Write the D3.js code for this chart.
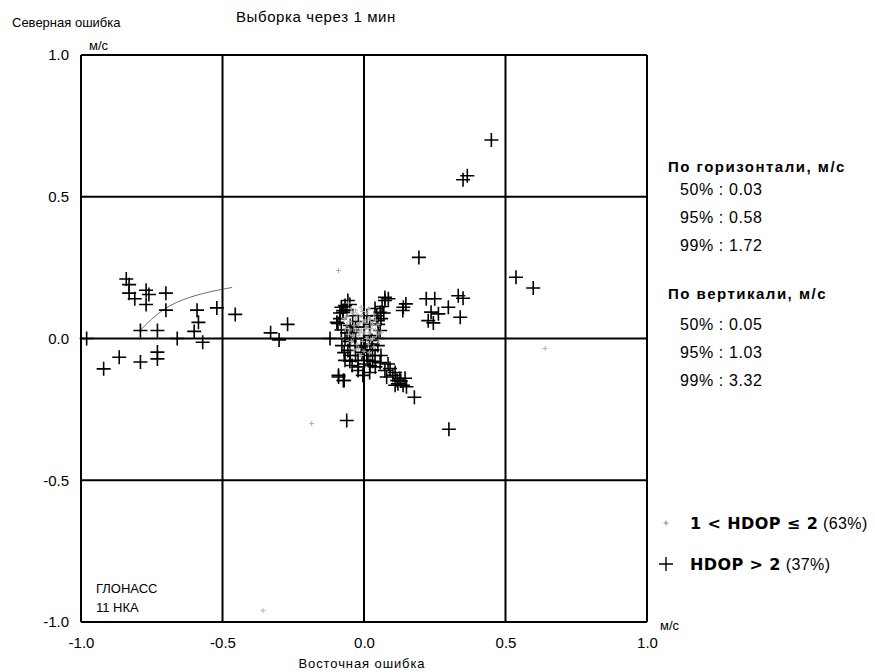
<!DOCTYPE html>
<html>
<head>
<meta charset="utf-8">
<script src="https://cdn.jsdelivr.net/npm/d3@7"></script>
<style>
  body { margin: 0; background: #fff; }
  text { font-family: "Liberation Sans", Arial, sans-serif; fill: #000; }
</style>
</head>
<body>
<div id="container"></div>
<script>
/* CONSTANTS AND GLOBALS */
const width = 875, height = 672;
const margin = { top: 55, right: 228, bottom: 50, left: 81 };

const ticks = [-1.0, -0.5, 0.0, 0.5, 1.0];
const tickLabels = ["-1.0", "-0.5", "0.0", "0.5", "1.0"];

// HDOP > 2 : big crosses [east, north] m/s
const hdopHigh = [
  [-0.84, 0.21], [-0.83, 0.19], [-0.83, 0.16], [-0.81, 0.14], [-0.77, 0.17],
  [-0.76, 0.155], [-0.70, 0.16], [-0.77, 0.12], [-0.70, 0.10], [-0.59, 0.10],
  [-0.585, 0.057], [-0.52, 0.108], [-0.455, 0.085], [-0.79, 0.028], [-0.73, 0.028],
  [-0.60, 0.025], [-0.98, 0.0], [-0.66, 0.0], [-0.57, -0.013], [-0.33, 0.02],
  [-0.27, 0.05], [-0.30, -0.005], [-0.12, 0.0], [-0.865, -0.066], [-0.92, -0.107],
  [-0.79, -0.083], [-0.73, -0.048], [-0.73, -0.072], [-0.09, -0.13], [-0.07, -0.148],
  [0.45, 0.70], [0.35, 0.56], [0.365, 0.574], [0.194, 0.286], [0.537, 0.216],
  [0.598, 0.178], [0.086, 0.14], [0.148, 0.122], [0.137, 0.099], [0.22, 0.14],
  [0.25, 0.14], [0.237, 0.093], [0.263, 0.087], [0.298, 0.11], [0.333, 0.151],
  [0.35, 0.142], [0.34, 0.075], [0.227, 0.063], [0.245, 0.055],
  [-0.061, -0.289], [0.30, -0.32], [0.178, -0.207], [0.139, 0.11], [0.074, 0.145],
  [-0.09, -0.136], [-0.073, -0.148], [0.08, -0.136], [-0.074, 0.099], [-0.096, 0.057],
  [-0.067, 0.116], [-0.074, 0.092], [-0.085, 0.070], [-0.092, 0.053], [-0.057, 0.134],
  [-0.049, 0.046], [-0.042, 0.021], [-0.067, 0.0], [-0.078, -0.025], [-0.057, -0.042],
  [-0.032, -0.025], [-0.049, -0.060], [-0.067, -0.077], [-0.042, -0.095], [-0.021, -0.077],
  [-0.007, -0.049], [0.004, -0.025], [0.021, -0.042], [0.039, -0.060], [0.049, -0.025],
  [0.028, -0.007], [0.014, -0.077], [-0.021, -0.113], [-0.004, -0.130], [0.021, -0.095],
  [0.057, -0.085], [0.074, -0.113], [0.092, -0.106], [0.102, -0.130], [0.117, -0.148],
  [0.127, -0.141], [0.110, -0.165], [0.138, -0.165], [0.049, 0.063], [0.057, 0.092],
  [0.064, 0.113], [0.039, 0.106], [0.074, 0.134], [0.057, 0.028], [0.049, 0.0],
  [-0.08, 0.03], [-0.06, 0.02], [-0.05, -0.01], [-0.03, 0.0], [-0.01, -0.03],
  [0.01, -0.06], [0.03, -0.08], [-0.03, -0.06], [-0.05, -0.08], [-0.07, -0.05],
  [0.0, -0.09], [0.04, -0.10], [0.06, -0.06], [0.03, -0.04], [-0.02, -0.10],
  [0.02, -0.12], [0.05, 0.05], [0.06, 0.07], [0.07, 0.09], [0.045, 0.08],
  [-0.06, 0.10], [-0.08, 0.11], [-0.05, 0.12], [-0.04, 0.08], [-0.03, 0.04],
  [0.0, 0.0], [0.02, 0.01], [-0.085, 0.09], [0.03, -0.02], [0.085, -0.09],
  [0.11, -0.12], [0.13, -0.15], [0.145, -0.14], [0.12, -0.16], [0.15, -0.17],
  [-0.02, 0.06], [0.0, 0.04], [0.02, 0.05], [-0.04, 0.03], [0.01, 0.08]
];

// 1 < HDOP <= 2 : small crosses
const hdopLow = [
  [-0.06, 0.08], [-0.05, 0.06], [-0.04, 0.09], [-0.03, 0.07], [-0.02, 0.05],
  [-0.01, 0.08], [0.00, 0.06], [0.01, 0.04], [0.02, 0.07], [0.03, 0.05],
  [0.04, 0.03], [-0.05, 0.03], [-0.04, 0.01], [-0.03, 0.03], [-0.02, 0.01],
  [-0.01, 0.03], [0.00, 0.02], [0.01, 0.00], [0.02, 0.02], [0.03, 0.00],
  [-0.06, 0.05], [-0.035, 0.045], [-0.015, 0.055], [0.005, 0.035], [0.025, 0.035],
  [-0.045, -0.01], [-0.025, -0.02], [-0.005, -0.01], [0.015, -0.02], [0.035, -0.03],
  [-0.03, 0.10], [-0.01, 0.11], [0.01, 0.09], [0.05, 0.05], [0.045, 0.015],
  [-0.055, 0.015], [-0.02, -0.035], [0.00, -0.045], [0.02, -0.05], [0.06, 0.02],
  [-0.07, 0.07], [-0.045, 0.105], [-0.025, 0.085], [-0.005, 0.095], [0.015, 0.105],
  [0.035, 0.085], [-0.065, 0.035], [-0.015, 0.02], [0.005, 0.065], [0.025, -0.005],
  [-0.035, -0.04], [-0.01, -0.06], [0.05, -0.01], [0.04, 0.065], [-0.055, 0.125],
  [-0.09, 0.24], [-0.185, -0.30], [-0.357, -0.96], [0.64, -0.035]
];

// thin arc seen left of centre
const arc = [[-0.795, 0.025], [-0.71, 0.109], [-0.615, 0.148], [-0.527, 0.169], [-0.466, 0.180]];

const statsH = [["50%", "0.03"], ["95%", "0.58"], ["99%", "1.72"]];
const statsV = [["50%", "0.05"], ["95%", "1.03"], ["99%", "3.32"]];

const svg = d3.select("#container")
  .append("svg")
  .attr("width", width)
  .attr("height", height);

const g = svg.append("g")
  .attr("transform", `translate(${margin.left},${margin.top})`);

const w = width - margin.left - margin.right;   // 566
const h = height - margin.top - margin.bottom;  // 567

const x = d3.scaleLinear().domain([-1, 1]).range([0, w]);
const y = d3.scaleLinear().domain([-1, 1]).range([h, 0]);

// grid + frame
g.selectAll(".vgrid").data(ticks).enter().append("line")
  .attr("x1", d => x(d)).attr("x2", d => x(d))
  .attr("y1", 0).attr("y2", h)
  .attr("stroke", "#000").attr("stroke-width", 2);
g.selectAll(".hgrid").data(ticks).enter().append("line")
  .attr("x1", 0).attr("x2", w)
  .attr("y1", d => y(d)).attr("y2", d => y(d))
  .attr("stroke", "#000").attr("stroke-width", 2);

// axes labels (no tick marks)
const xAxis = g.append("g")
  .attr("transform", `translate(0,${h})`)
  .call(d3.axisBottom(x).tickValues(ticks).tickFormat((d, i) => tickLabels[i]).tickSize(0).tickPadding(12));
const yAxis = g.append("g")
  .call(d3.axisLeft(y).tickValues(ticks).tickFormat((d, i) => tickLabels[i]).tickSize(0).tickPadding(12));
[xAxis, yAxis].forEach(a => {
  a.select(".domain").remove();
  a.selectAll("text").attr("font-size", 15).attr("font-family", "Liberation Sans, Arial, sans-serif").attr("fill", "#000");
});
xAxis.selectAll("text").attr("dy", "0.95em");

// arc
g.append("path")
  .datum(arc)
  .attr("d", d3.line().x(d => x(d[0])).y(d => y(d[1])).curve(d3.curveBasis))
  .attr("fill", "none").attr("stroke", "#444").attr("stroke-width", 0.8);

const cross = s => `M${-s},0H${s}M0,${-s}V${s}`;

// big crosses
g.selectAll(".big").data(hdopHigh).enter().append("path")
  .attr("transform", d => `translate(${x(d[0])},${y(d[1])})`)
  .attr("d", cross(7))
  .attr("stroke", "#000").attr("stroke-width", 1.6);

// small crosses
g.selectAll(".small").data(hdopLow).enter().append("path")
  .attr("transform", d => `translate(${x(d[0])},${y(d[1])})`)
  .attr("d", cross(2.5))
  .attr("stroke", "#b0b0b0").attr("stroke-width", 1);

// titles and units
svg.append("text").attr("x", 12).attr("y", 27).attr("font-size", 13).text("Северная ошибка");
svg.append("text").attr("x", 236).attr("y", 22).attr("font-size", 15).attr("letter-spacing", 0.6).text("Выборка через 1 мин");
svg.append("text").attr("x", 89).attr("y", 50).attr("font-size", 13).text("м/с");
svg.append("text").attr("x", 660).attr("y", 630).attr("font-size", 13).text("м/с");
svg.append("text").attr("x", 362).attr("y", 668).attr("text-anchor", "middle").attr("font-size", 13).attr("letter-spacing", 0.9).text("Восточная ошибка");
svg.append("text").attr("x", 96).attr("y", 593).attr("font-size", 13).text("ГЛОНАСС");
svg.append("text").attr("x", 96).attr("y", 612).attr("font-size", 13).text("11 НКА");

// stats panel
const panel = svg.append("g").attr("transform", "translate(668,0)");
panel.append("text").attr("x", 0).attr("y", 172).attr("font-size", 15)
  .attr("font-family", "DejaVu Sans, sans-serif").attr("font-weight", "bold").attr("letter-spacing", 1.5)
  .text("По горизонтали, м/с");
panel.selectAll(".sh").data(statsH).enter().append("text")
  .attr("x", 12).attr("y", (d, i) => 195 + i * 28).attr("font-size", 16).attr("letter-spacing", 0.6)
  .text(d => `${d[0]} : ${d[1]}`);
panel.append("text").attr("x", 0).attr("y", 299).attr("font-size", 15)
  .attr("font-family", "DejaVu Sans, sans-serif").attr("font-weight", "bold").attr("letter-spacing", 1.5)
  .text("По вертикали, м/с");
panel.selectAll(".sv").data(statsV).enter().append("text")
  .attr("x", 12).attr("y", (d, i) => 330 + i * 28).attr("font-size", 16).attr("letter-spacing", 0.6)
  .text(d => `${d[0]} : ${d[1]}`);

// legend
const legend = [
  { size: 2.5, color: "#888", bold: "1 < HDOP ≤ 2", rest: " (63%)", y: 523 },
  { size: 7, color: "#000", bold: "HDOP > 2", rest: " (37%)", y: 564 }
];
const lg = svg.selectAll(".lg").data(legend).enter().append("g")
  .attr("transform", d => `translate(666,${d.y})`);
lg.append("path").attr("d", d => cross(d.size)).attr("stroke", d => d.color).attr("stroke-width", d => d.size > 3 ? 1.4 : 1);
const lt = lg.append("text").attr("x", 24).attr("y", 6).attr("font-size", 16).attr("letter-spacing", 0.4);
lt.append("tspan").attr("font-family", "DejaVu Sans, sans-serif").attr("font-weight", "bold").text(d => d.bold);
lt.append("tspan").text(d => d.rest);
</script>
</body>
</html>
